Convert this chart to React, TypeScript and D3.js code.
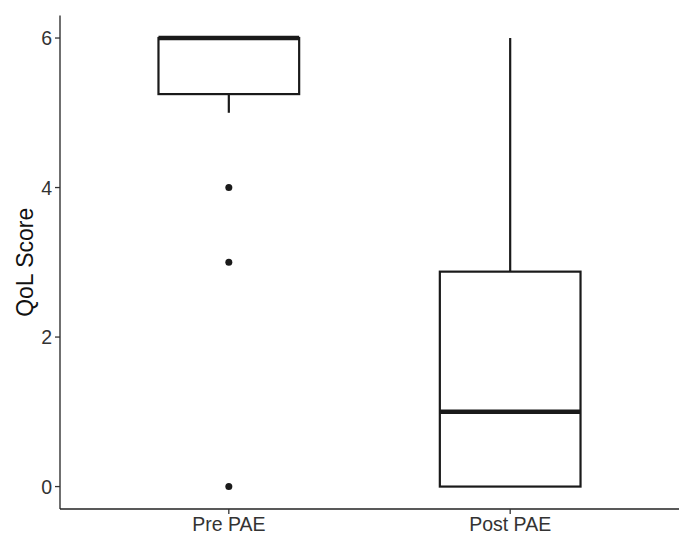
import React from "react";
import * as d3 from "d3";

const W = 683;
const H = 534;
const MARGIN = { left: 60, right: 4, top: 15.6, bottom: 25 };

// box summaries
const groups = ["Pre PAE", "Post PAE"];
const lowerWhisker = [5, 0];
const q1 = [5.25, 0];
const median = [6, 1];
const q3 = [6, 2.875];
const upperWhisker = [6, 6];
const outliers = [[4, 3, 0], []];

const yTicks = [0, 2, 4, 6];

const App = () => {
  const innerW = W - MARGIN.left - MARGIN.right;
  const innerH = H - MARGIN.top - MARGIN.bottom;

  // ggplot-style discrete scale: 0.6 expansion on each side
  const x = d3.scaleLinear().domain([0.4, 2.6]).range([0, innerW]);
  const y = d3.scaleLinear().domain([-0.3, 6.3]).range([innerH, 0]);
  const halfBox = x(1.25) - x(1);

  return (
    <svg
      width={W}
      height={H}
      style={{ position: "absolute", left: 0, top: 0, background: "white" }}
      fontFamily="'Liberation Sans', Arial, sans-serif"
    >
      <g transform={`translate(${MARGIN.left},${MARGIN.top})`}>
        {groups.map((g, i) => {
          const cx = x(i + 1);
          return (
            <g key={g}>
              <line x1={cx} x2={cx} y1={y(q3[i])} y2={y(upperWhisker[i])} stroke="#1a1a1a" strokeWidth={2.2} />
              <line x1={cx} x2={cx} y1={y(q1[i])} y2={y(lowerWhisker[i])} stroke="#1a1a1a" strokeWidth={2.2} />
              <rect
                x={cx - halfBox}
                y={y(q3[i])}
                width={halfBox * 2}
                height={y(q1[i]) - y(q3[i])}
                fill="white"
                stroke="#1a1a1a"
                strokeWidth={2.2}
              />
              <line x1={cx - halfBox} x2={cx + halfBox} y1={y(median[i])} y2={y(median[i])} stroke="#1a1a1a" strokeWidth={4.4} />
              {outliers[i].map((v, j) => (
                <circle key={j} cx={cx} cy={y(v)} r={3.5} fill="#1a1a1a" />
              ))}
            </g>
          );
        })}

        {/* y axis */}
        <line x1={0} x2={0} y1={0} y2={innerH} stroke="#222" strokeWidth={1.3} />
        {yTicks.map((t) => (
          <g key={t} transform={`translate(0,${y(t)})`}>
            <line x1={-5} x2={0} stroke="#333" strokeWidth={1.3} />
            <text x={-8} dy="0.36em" textAnchor="end" fontSize={19.5} fill="#333">
              {t}
            </text>
          </g>
        ))}

        {/* x axis */}
        <line x1={0} x2={innerW} y1={innerH} y2={innerH} stroke="#222" strokeWidth={1.3} />
        {groups.map((g, i) => (
          <g key={g} transform={`translate(${x(i + 1)},${innerH})`}>
            <line y1={0} y2={5} stroke="#333" strokeWidth={1.3} />
            <text y={22} textAnchor="middle" fontSize={19.5} fill="#333">
              {g}
            </text>
          </g>
        ))}

        <text
          transform={`translate(${33 - MARGIN.left},${innerH / 2}) rotate(-90)`}
          textAnchor="middle"
          fontSize={23}
          fill="#111"
        >
          QoL Score
        </text>
      </g>
    </svg>
  );
};

export default App;
